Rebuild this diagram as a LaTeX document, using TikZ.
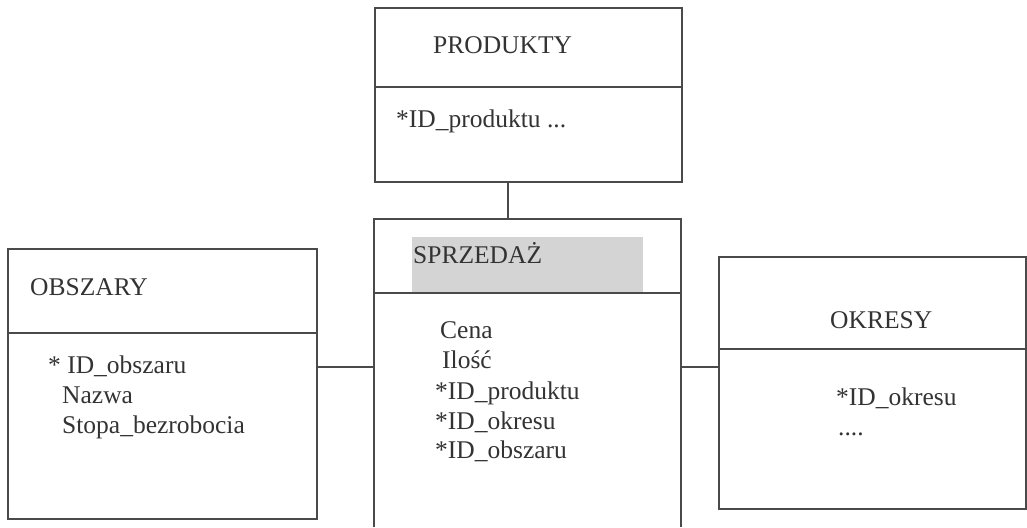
\documentclass[tikz,border=0pt]{standalone}
\usepackage{fontspec}
\setmainfont{Liberation Serif}
\definecolor{inkline}{HTML}{4A4A4A}
\definecolor{inktext}{HTML}{333333}
\definecolor{bandgray}{HTML}{D4D4D4}
\begin{document}
\begin{tikzpicture}[x=1pt,y=-1pt,
  entity/.style={draw=inkline, line width=2pt, inner sep=0pt, anchor=north west, rectangle},
  openbox/.style={inner sep=0pt, anchor=north west, rectangle},
  link/.style={draw=inkline, line width=2pt},
  lbl/.style={inner sep=0pt, anchor=base west, text=inktext, font=\fontsize{25.5}{30}\selectfont},
  band/.style={fill=bandgray, inner sep=0pt, anchor=north west, rectangle}]
\useasboundingbox (0,0) rectangle (1027,527);

% PRODUKTY
\node[entity, minimum width=307pt, minimum height=174pt] (produkty) at (374,7) {};
\draw[link] (produkty.west |- 0,87) -- (produkty.east |- 0,87);
\node[lbl] (tprod) at (433,53) {PRODUKTY};
\node[lbl] (tprodid) at (396,127) {*ID\_produktu ...};

% SPRZEDAZ
\node[openbox, minimum width=307pt, minimum height=308pt] (sprzedaz) at (374,219) {};
\node[band, minimum width=231pt, minimum height=56pt] (sband) at (412,237) {};
\draw[link] (sprzedaz.south west) -- (sprzedaz.north west) -- (sprzedaz.north east) -- (sprzedaz.south east);
\draw[link] (sprzedaz.west |- 0,293) -- (sprzedaz.east |- 0,293);
\node[lbl] (tsprz) at (413,263) {SPRZEDAŻ};
\node[lbl] (tcena) at (440,338) {Cena};
\node[lbl] (tilosc) at (442,368) {Ilość};
\node[lbl] (tsprod) at (435,399) {*ID\_produktu};
\node[lbl] (tsokr) at (435,429) {*ID\_okresu};
\node[lbl] (tsobs) at (435,458) {*ID\_obszaru};

% OBSZARY
\node[entity, minimum width=309pt, minimum height=270pt] (obszary) at (7,248) {};
\draw[link] (obszary.west |- 0,333) -- (obszary.east |- 0,333);
\node[lbl] (tobs) at (30,295) {OBSZARY};
\node[lbl] (tobsid) at (48,373) {* ID\_obszaru};
\node[lbl] (tnazwa) at (62,403) {Nazwa};
\node[lbl] (tstopa) at (62,433) {Stopa\_bezrobocia};

% OKRESY
\node[entity, minimum width=307pt, minimum height=252pt] (okresy) at (718,256) {};
\draw[link] (okresy.west |- 0,349) -- (okresy.east |- 0,349);
\node[lbl] (tokr) at (830,328) {OKRESY};
\node[lbl] (tokrid) at (836,405) {*ID\_okresu};
\node[lbl] (tdots) at (838,435) {....};

% connectors
\draw[link] (sprzedaz.north -| 508,0) -- (produkty.south -| 508,0);
\draw[link] (obszary.east |- 0,367) -- (sprzedaz.west |- 0,367);
\draw[link] (sprzedaz.east |- 0,367) -- (okresy.west |- 0,367);
\end{tikzpicture}
\end{document}
